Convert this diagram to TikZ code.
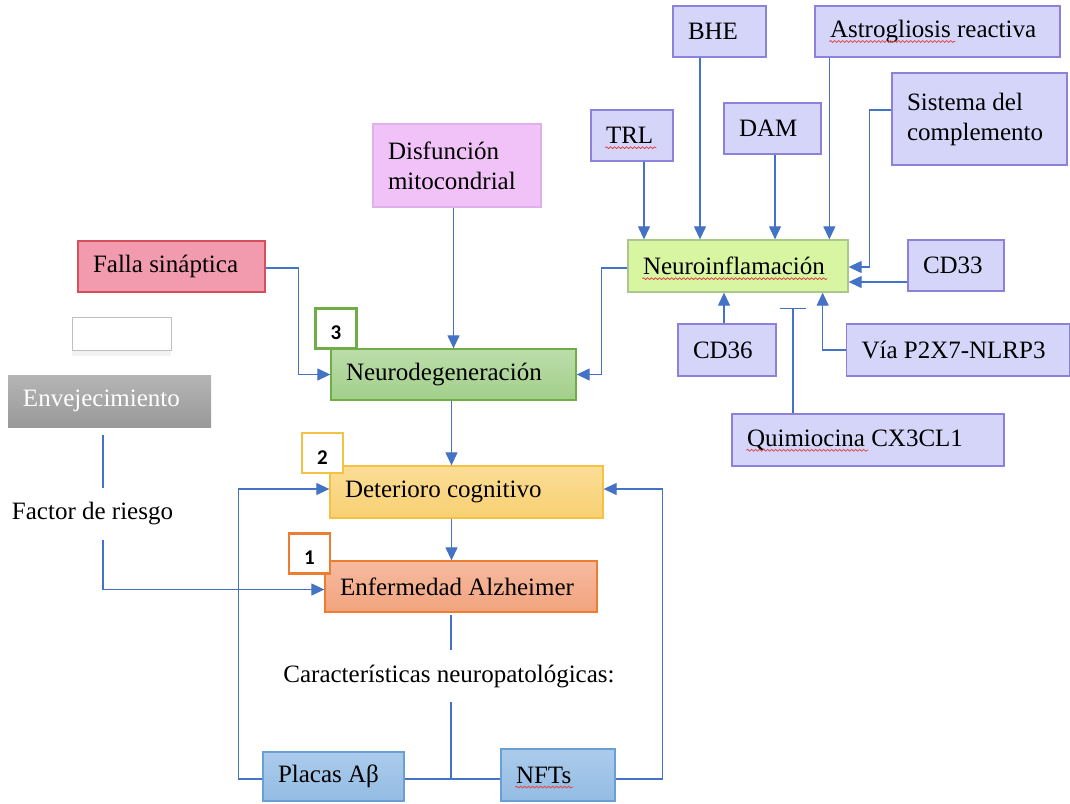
\documentclass[tikz,border=0pt]{standalone}
\usepackage{fontspec}
\setmainfont{Liberation Serif}
\newfontfamily\numfont{Carlito}
\usetikzlibrary{arrows.meta, shadows, decorations.pathmorphing}

\definecolor{linkblue}{RGB}{68,114,196}
\definecolor{spellred}{RGB}{225,70,70}
\definecolor{microfill}{RGB}{213,213,250}
\definecolor{microborder}{RGB}{140,130,220}
\definecolor{neuroinffill}{RGB}{216,245,162}
\definecolor{neuroinfborder}{RGB}{170,200,140}
\definecolor{fallafill}{RGB}{242,154,174}
\definecolor{fallaborder}{RGB}{211,80,92}
\definecolor{disffill}{RGB}{240,194,247}
\definecolor{disfborder}{RGB}{224,176,234}
\definecolor{neurodegtop}{RGB}{188,221,170}
\definecolor{neurodegbottom}{RGB}{162,207,138}
\definecolor{neurodegborder}{RGB}{112,173,71}
\definecolor{dettop}{RGB}{251,221,150}
\definecolor{detbottom}{RGB}{248,208,114}
\definecolor{detborder}{RGB}{246,193,67}
\definecolor{enftop}{RGB}{246,187,160}
\definecolor{enfbottom}{RGB}{242,163,126}
\definecolor{enfborder}{RGB}{237,125,49}
\definecolor{pathtop}{RGB}{171,203,235}
\definecolor{pathbottom}{RGB}{148,188,228}
\definecolor{pathborder}{RGB}{106,159,214}

\begin{document}
\begin{tikzpicture}[x=1pt,y=-1pt,>={Triangle[length=13pt,width=12pt]},
    font=\fontsize{25}{30}\selectfont,
    box/.style={draw, rectangle, line width=1.3pt, align=flush left, inner xsep=15pt, inner ysep=0pt, minimum height=51pt},
    micro/.style={box, draw=microborder, fill=microfill},
    numbox/.style={draw, fill=white, line width=2.2pt, minimum width=41pt, minimum height=40pt, inner sep=0pt,
        text height=24pt, text depth=2pt, font=\numfont\bfseries\fontsize{21}{22}\selectfont},
    conn/.style={draw=linkblue, line width=1.2pt},
    spell/.style={draw=spellred, line width=0.8pt, decorate, decoration={snake, amplitude=0.9pt, segment length=4pt}}]
    \useasboundingbox (0,0) rectangle (1070,803);

    % neuroinflammation and what feeds it
    \node[micro, text width=63pt] (bhe) at (719.5,31.5) {BHE};
    \node[micro, text width=215pt] (astro) at (937.5,31.5) {Astrogliosis reactiva};
    \node[micro, text width=145pt, minimum height=92pt] (sistema) at (979.5,119) {Sistema del\\complemento\par\vspace{10pt}};
    \node[micro, text width=52pt] (trl) at (632,135.5) {TRL};
    \node[micro, text width=67pt] (dam) at (772.5,128.5) {DAM};
    \node[box, draw=neuroinfborder, fill=neuroinffill, text width=190pt, minimum height=52pt] (neuroinf) at (738,266) {Neuroinflamación};
    \node[micro, text width=66pt] (cd33) at (956,265.5) {CD33};
    \node[micro, text width=68pt, minimum height=52pt] (cd36) at (727,350) {CD36};
    \node[micro, text width=193pt, minimum height=52pt] (via) at (958,350) {Vía P2X7-NLRP3};
    \node[micro, text width=242pt, minimum height=52pt] (quim) at (868,440) {Quimiocina CX3CL1};

    % left column
    \node[box, draw=fallaborder, fill=fallafill, text width=157pt] (falla) at (171.5,266.5) {Falla sináptica};
    \node[draw=black!25, fill=white, line width=0.8pt, minimum width=99pt, minimum height=33pt,
        drop shadow={shadow xshift=0pt, shadow yshift=-6pt, opacity=0.1}] (blank) at (121.5,333.5) {};
    \node[box, draw=none, top color=black!29, bottom color=black!40, text=white, text width=173pt, minimum height=52pt] (env) at (109.5,401) {Envejecimiento};
    \node[minimum height=52pt, inner sep=0pt] (riesgo) at (92.5,514) {Factor de riesgo};

    % main chain
    \node[box, draw=disfborder, fill=disffill, text width=138pt, minimum height=83pt] (disf) at (457,165.5) {Disfunción\\mitocondrial};
    \node[box, draw=neurodegborder, top color=neurodegtop, bottom color=neurodegbottom, text width=215pt] (neurodeg) at (453.5,374.5) {Neurodegeneración};
    \node[box, draw=detborder, top color=dettop, bottom color=detbottom, text width=243pt, minimum height=52pt] (det) at (466.5,492) {Deterioro cognitivo};
    \node[box, draw=enfborder, top color=enftop, bottom color=enfbottom, text width=242pt] (enf) at (461,586.5) {Enfermedad Alzheimer};
    \node[minimum height=52pt, inner sep=0pt] (caract) at (449,676) {Características neuropatológicas:};
    \node[box, draw=pathborder, top color=pathtop, bottom color=pathbottom, text width=111pt, minimum height=49pt] (placas) at (333.5,776.5) {Placas Aβ};
    \node[box, draw=pathborder, top color=pathtop, bottom color=pathbottom, text width=84pt, minimum height=52pt] (nfts) at (558,775) {NFTs};

    % spell-check waves
    \draw[spell] ([xshift=15pt,yshift=-4pt]astro.base west) -- ++(126,0);
    \draw[spell] ([xshift=15pt,yshift=-4pt]trl.base west) -- ++(51,0);
    \draw[spell] ([xshift=15pt,yshift=-4pt]neuroinf.base west) -- ++(185,0);
    \draw[spell] ([xshift=15pt,yshift=-4pt]quim.base west) -- ++(122,0);
    \draw[spell] ([xshift=15pt,yshift=-4pt]nfts.base west) -- ++(58,0);

    \coordinate (tbar) at (793,308);
    \coordinate (joint) at (451,779);

    % arrows into neuroinflamacion
    \draw[conn,->] ([xshift=12pt]trl.south) -- ([xshift=12pt]trl.south |- neuroinf.north);
    \draw[conn,->] ([xshift=-19.5pt]bhe.south) -- ([xshift=-19.5pt]bhe.south |- neuroinf.north);
    \draw[conn,->] ([xshift=2.5pt]dam.south) -- ([xshift=2.5pt]dam.south |- neuroinf.north);
    \draw[conn,->] ([xshift=15pt]astro.south west) -- ([xshift=15pt]astro.south west |- neuroinf.north);
    \draw[conn,->] ([yshift=9pt]sistema.west) -- ++(-22,0) |- ([yshift=-1pt]neuroinf.east);
    \draw[conn,->] ([yshift=-16.5pt]cd33.west) -- ([yshift=-16.5pt]cd33.west -| neuroinf.east);
    \draw[conn,->] ([xshift=-3pt]cd36.north) -- ([xshift=-3pt]cd36.north |- neuroinf.south);
    \draw[conn,->] (via.west) -| ([xshift=-26pt]neuroinf.south east);
    \draw[conn,-{Bar[width=26pt]}] (quim.north -| tbar) -- (tbar);

    % main chain
    \draw[conn,->] ([yshift=-2pt]neuroinf.west) -- ++(-26,0) |- (neurodeg.east);
    \draw[conn,->] ([yshift=-1.5pt]falla.east) -- ++(33,0) |- (neurodeg.west);
    \draw[conn,->] (neurodeg.north |- disf.south) -- (neurodeg.north);
    \draw[conn,->] ([xshift=-2pt]neurodeg.south) -- ([xshift=-2pt]neurodeg.south |- det.north);
    \draw[conn,->] ([xshift=-2pt]neurodeg.south |- det.south) -- ([xshift=-2pt]neurodeg.south |- enf.north);

    % factor de riesgo
    \draw[conn] ([xshift=-6.5pt,yshift=-7pt]env.south) -- ([xshift=-6.5pt]env.south |- riesgo.north);
    \draw[conn,->] ([xshift=-6.5pt]env.south |- riesgo.south) |- ([yshift=-3pt]enf.west);

    % caracteristicas
    \draw[conn] ([yshift=-2pt]enf.south -| joint) -- (caract.north -| joint);
    \draw[conn] (caract.south -| joint) -- (joint);
    \draw[conn] (placas.east |- joint) -- (nfts.west |- joint);
    \draw[conn,->] (placas.west |- joint) -- ++(-24,0) |- ([yshift=3pt]det.west);
    \draw[conn,->] (nfts.east |- joint) -- ++(47,0) |- ([yshift=3pt]det.east);

    % numbers
    \node[numbox, draw=neurodegborder] (lab3) at (336,328.5) {3};
    \node[numbox, draw=detborder] (lab2) at (322.5,453) {2};
    \node[numbox, draw=enfborder] (lab1) at (309.5,553.5) {1};
\end{tikzpicture}
\end{document}
